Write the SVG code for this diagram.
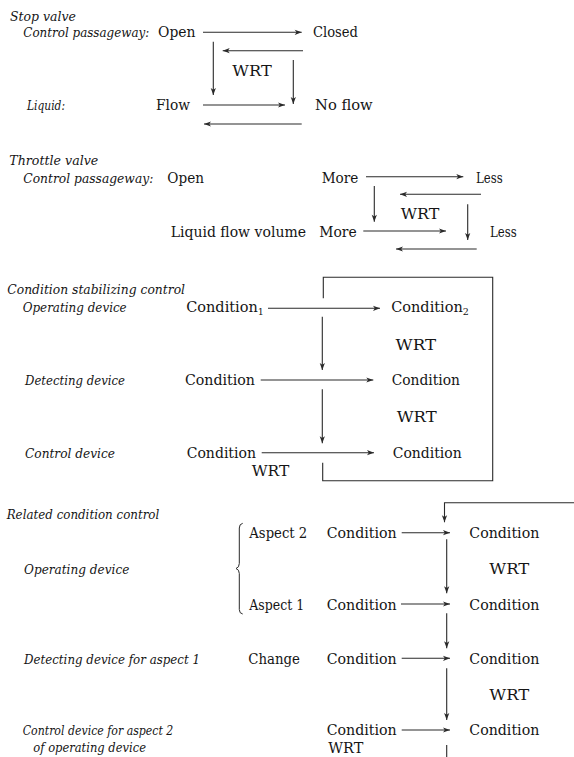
<svg xmlns="http://www.w3.org/2000/svg" width="574" height="757" viewBox="0 0 574 757" font-family="'DejaVu Serif', serif">
  <style>
    .t { font-family: 'DejaVu Serif', serif; font-size: 14.5px; fill: #151515; }
    .i { font-style: italic; font-size: 13.5px; }
    .w { font-size: 15.5px; }
    .sub { font-size: 9.5px; }
    .c line, .c path { stroke: #2a2a2a; stroke-width: 1.1; fill: none; }
    .c .ar { marker-end: url(#ah); }
  </style>
  <defs>
    <marker id="ah" markerUnits="userSpaceOnUse" markerWidth="10" markerHeight="8" viewBox="-8 -4 9 8" refX="0" refY="0" orient="auto">
      <path d="M0,0 L-7,-2.6 L-5.2,0 L-7,2.6 Z" fill="#2a2a2a"/>
    </marker>
  </defs>
  <rect width="574" height="757" fill="#ffffff"/>

  <!-- Stop valve -->
  <g id="stop-valve-title"><text class="t i" x="10" y="20.5" textLength="66" lengthAdjust="spacingAndGlyphs">Stop valve</text></g>
  <g id="sv-passage-label"><text class="t i" x="23.3" y="36.5" style="font-size:12.4px" textLength="126" lengthAdjust="spacingAndGlyphs">Control passageway:</text></g>
  <g id="sv-open"><text class="t" x="158" y="36.5" textLength="37.5" lengthAdjust="spacingAndGlyphs">Open</text></g>
  <g id="sv-closed"><text class="t" x="313" y="36.5" textLength="45" lengthAdjust="spacingAndGlyphs">Closed</text></g>
  <g id="sv-wrt"><text class="t w" x="232.3" y="76" textLength="39.4" lengthAdjust="spacingAndGlyphs">WRT</text></g>
  <g id="sv-liquid-label"><text class="t i" x="27" y="109.5" textLength="38" lengthAdjust="spacingAndGlyphs">Liquid:</text></g>
  <g id="sv-flow"><text class="t" x="156" y="109.5" textLength="34" lengthAdjust="spacingAndGlyphs">Flow</text></g>
  <g id="sv-noflow"><text class="t" x="315" y="109.5" textLength="57.7" lengthAdjust="spacingAndGlyphs">No flow</text></g>

  <!-- Throttle valve -->
  <g id="throttle-title"><text class="t i" x="9.3" y="165" textLength="89" lengthAdjust="spacingAndGlyphs">Throttle valve</text></g>
  <g id="tv-passage-label"><text class="t i" x="23.3" y="182.5" textLength="130" lengthAdjust="spacingAndGlyphs">Control passageway:</text></g>
  <g id="tv-open"><text class="t" x="167.3" y="182.5" textLength="36.7" lengthAdjust="spacingAndGlyphs">Open</text></g>
  <g id="tv-more-1"><text class="t" x="321.7" y="182.5" textLength="36.6" lengthAdjust="spacingAndGlyphs">More</text></g>
  <g id="tv-less-1"><text class="t" x="476" y="182.5" textLength="26.7" lengthAdjust="spacingAndGlyphs">Less</text></g>
  <g id="tv-wrt"><text class="t w" x="400.7" y="218.5" textLength="38.6" lengthAdjust="spacingAndGlyphs">WRT</text></g>
  <g id="tv-flow-label"><text class="t" x="170.7" y="236.5" textLength="135.3" lengthAdjust="spacingAndGlyphs">Liquid flow volume</text></g>
  <g id="tv-more-2"><text class="t" x="319.3" y="236.5" textLength="37.4" lengthAdjust="spacingAndGlyphs">More</text></g>
  <g id="tv-less-2"><text class="t" x="490" y="236.5" textLength="26.7" lengthAdjust="spacingAndGlyphs">Less</text></g>

  <!-- Condition stabilizing control -->
  <g id="csc-title"><text class="t i" x="7.3" y="294" textLength="177.7" lengthAdjust="spacingAndGlyphs">Condition stabilizing control</text></g>
  <g id="csc-operating-label"><text class="t i" x="22.7" y="312" textLength="104" lengthAdjust="spacingAndGlyphs">Operating device</text></g>
  <g id="csc-cond-1"><text class="t" x="186.2" y="312">Condition<tspan class="sub" dy="3">1</tspan></text></g>
  <g id="csc-cond-2"><text class="t" x="391.2" y="312">Condition<tspan class="sub" dy="3">2</tspan></text></g>
  <g id="csc-wrt-1"><text class="t w" x="395.5" y="349.5" textLength="40.5" lengthAdjust="spacingAndGlyphs">WRT</text></g>
  <g id="csc-detecting-label"><text class="t i" x="25" y="385" textLength="100" lengthAdjust="spacingAndGlyphs">Detecting device</text></g>
  <g id="csc-det-in"><text class="t" x="185" y="385" textLength="70" lengthAdjust="spacingAndGlyphs">Condition</text></g>
  <g id="csc-det-out"><text class="t" x="391.7" y="385" textLength="68.3" lengthAdjust="spacingAndGlyphs">Condition</text></g>
  <g id="csc-wrt-2"><text class="t w" x="396.7" y="421.5" textLength="40" lengthAdjust="spacingAndGlyphs">WRT</text></g>
  <g id="csc-control-label"><text class="t i" x="25" y="457.5" textLength="90" lengthAdjust="spacingAndGlyphs">Control device</text></g>
  <g id="csc-ctl-in"><text class="t" x="186.7" y="457.5" textLength="69.3" lengthAdjust="spacingAndGlyphs">Condition</text></g>
  <g id="csc-ctl-out"><text class="t" x="392.7" y="457.5" textLength="69" lengthAdjust="spacingAndGlyphs">Condition</text></g>
  <g id="csc-wrt-3"><text class="t w" x="251.7" y="475.5" textLength="37.6" lengthAdjust="spacingAndGlyphs">WRT</text></g>

  <!-- Related condition control -->
  <g id="rcc-title"><text class="t i" x="6.7" y="519" textLength="152.6" lengthAdjust="spacingAndGlyphs">Related condition control</text></g>
  <g id="rcc-operating-label"><text class="t i" x="24" y="573.5" textLength="105.3" lengthAdjust="spacingAndGlyphs">Operating device</text></g>
  <g id="rcc-brace"><path d="M242.7,523.3 Q239.3,524 239.3,528 L239.3,563.5 Q239.3,567.5 236,568.5 Q239.3,569.5 239.3,573.5 L239.3,609.5 Q239.3,613.5 242.7,614" fill="none" stroke="#2a2a2a" stroke-width="1"/></g>
  <g id="rcc-aspect-2"><text class="t" x="249.3" y="538" textLength="58" lengthAdjust="spacingAndGlyphs">Aspect 2</text></g>
  <g id="rcc-a2-in"><text class="t" x="326.7" y="538" textLength="70" lengthAdjust="spacingAndGlyphs">Condition</text></g>
  <g id="rcc-a2-out"><text class="t" x="469.3" y="538" textLength="70" lengthAdjust="spacingAndGlyphs">Condition</text></g>
  <g id="rcc-wrt-1"><text class="t w" x="489.3" y="574" textLength="40" lengthAdjust="spacingAndGlyphs">WRT</text></g>
  <g id="rcc-aspect-1"><text class="t" x="249.3" y="610" textLength="55" lengthAdjust="spacingAndGlyphs">Aspect 1</text></g>
  <g id="rcc-a1-in"><text class="t" x="326.7" y="610" textLength="70" lengthAdjust="spacingAndGlyphs">Condition</text></g>
  <g id="rcc-a1-out"><text class="t" x="469.3" y="610" textLength="70" lengthAdjust="spacingAndGlyphs">Condition</text></g>
  <g id="rcc-detecting-label"><text class="t i" x="24" y="664" textLength="176" lengthAdjust="spacingAndGlyphs">Detecting device for aspect 1</text></g>
  <g id="rcc-change"><text class="t" x="248.3" y="664" textLength="51.7" lengthAdjust="spacingAndGlyphs">Change</text></g>
  <g id="rcc-det-in"><text class="t" x="326.7" y="664" textLength="70" lengthAdjust="spacingAndGlyphs">Condition</text></g>
  <g id="rcc-det-out"><text class="t" x="469.3" y="664" textLength="70" lengthAdjust="spacingAndGlyphs">Condition</text></g>
  <g id="rcc-wrt-2"><text class="t w" x="489.3" y="699.5" textLength="40" lengthAdjust="spacingAndGlyphs">WRT</text></g>
  <g id="rcc-control-label"><text class="t i" x="22.7" y="735" textLength="150.6" lengthAdjust="spacingAndGlyphs">Control device for aspect 2</text><text class="t i" x="33.3" y="751.5" textLength="112.7" lengthAdjust="spacingAndGlyphs">of operating device</text></g>
  <g id="rcc-ctl-in"><text class="t" x="326.7" y="735" textLength="70" lengthAdjust="spacingAndGlyphs">Condition</text></g>
  <g id="rcc-ctl-out"><text class="t" x="469.3" y="735" textLength="70" lengthAdjust="spacingAndGlyphs">Condition</text></g>
  <g id="rcc-wrt-3"><text class="t" x="328.3" y="753" textLength="35" lengthAdjust="spacingAndGlyphs">WRT</text></g>

  <!-- connectors -->
  <g id="connectors" class="c">
    <!-- stop valve -->
    <line class="ar" x1="203" y1="32.3" x2="301.7" y2="32.3"/>
    <line class="ar" x1="303" y1="50.7" x2="222.7" y2="50.7"/>
    <line class="ar" x1="213.3" y1="41.7" x2="213.3" y2="95"/>
    <line class="ar" x1="293.3" y1="60" x2="293.3" y2="104"/>
    <line class="ar" x1="203" y1="105" x2="285" y2="105"/>
    <line class="ar" x1="301.7" y1="124" x2="204" y2="124"/>
    <!-- throttle valve -->
    <line class="ar" x1="366" y1="176.7" x2="463.3" y2="176.7"/>
    <line class="ar" x1="481" y1="194.3" x2="400" y2="194.3"/>
    <line class="ar" x1="374.3" y1="186" x2="374.3" y2="221.7"/>
    <line class="ar" x1="467.7" y1="204.3" x2="467.7" y2="240"/>
    <line class="ar" x1="363.3" y1="231" x2="446" y2="231"/>
    <line class="ar" x1="476.7" y1="249" x2="396" y2="249"/>
    <!-- condition stabilizing control -->
    <line class="ar" x1="268" y1="308.3" x2="380" y2="308.3"/>
    <line class="ar" x1="260.7" y1="380" x2="373.3" y2="380"/>
    <line class="ar" x1="261.7" y1="452.7" x2="374" y2="452.7"/>
    <line class="ar" x1="322.3" y1="316.7" x2="322.3" y2="370"/>
    <line class="ar" x1="322.3" y1="389.3" x2="322.3" y2="443.3"/>
    <path d="M323.3,298.3 V277.3 H492.7 V480.7 H322.7 V462.7"/>
    <!-- related condition control -->
    <path class="ar" d="M574,502.7 H444.5 V522.3"/>
    <line class="ar" x1="401.7" y1="532.7" x2="450" y2="532.7"/>
    <line class="ar" x1="401" y1="604" x2="450" y2="604"/>
    <line class="ar" x1="401.7" y1="658.3" x2="450" y2="658.3"/>
    <line class="ar" x1="401.7" y1="730" x2="450" y2="730"/>
    <line class="ar" x1="446.7" y1="539.3" x2="446.7" y2="593.3"/>
    <line class="ar" x1="446.7" y1="613.3" x2="446.7" y2="648.3"/>
    <line class="ar" x1="446.7" y1="668.3" x2="446.7" y2="720"/>
    <line x1="446.7" y1="745" x2="446.7" y2="757"/>
  </g>
</svg>
